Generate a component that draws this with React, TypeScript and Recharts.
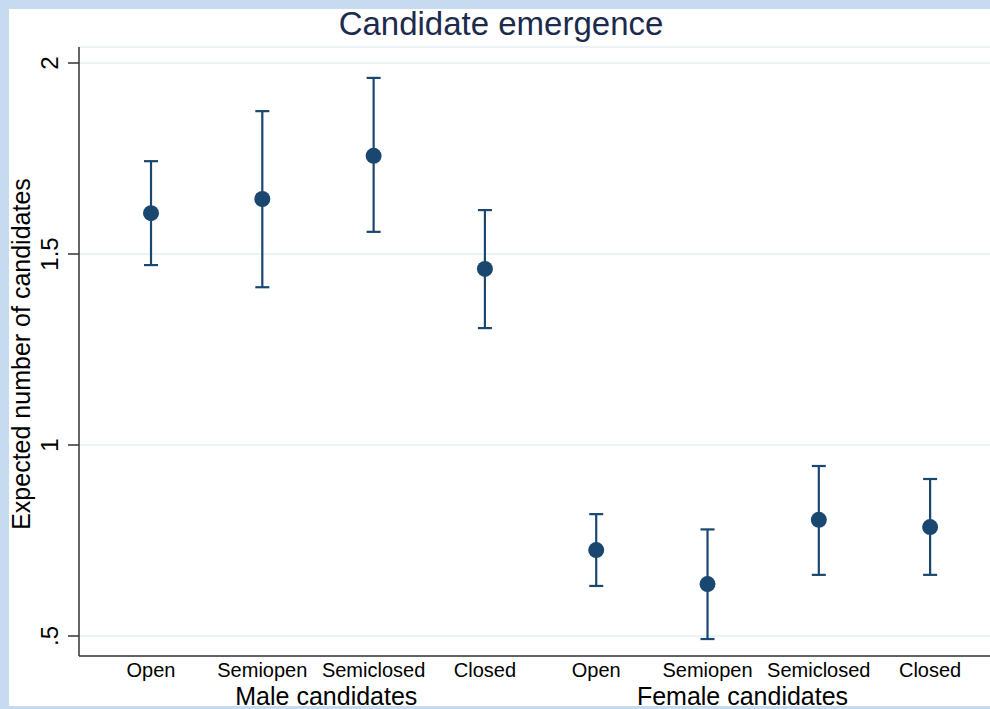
import { ScatterChart, Scatter, XAxis, YAxis, CartesianGrid, ErrorBar } from 'recharts';

const categories = ['Open', 'Semiopen', 'Semiclosed', 'Closed', 'Open', 'Semiopen', 'Semiclosed', 'Closed'];
const groupLabels = ['Male candidates', 'Female candidates'];
const estimates = [1.607, 1.644, 1.757, 1.461, 0.725, 0.636, 0.804, 0.785];
const lowerCI = [1.471, 1.413, 1.558, 1.306, 0.631, 0.492, 0.66, 0.66];
const upperCI = [1.743, 1.874, 1.961, 1.615, 0.819, 0.779, 0.945, 0.911];
const yTicks = [0.5, 1, 1.5, 2];
const yTickLabels = ['.5', '1', '1.5', '2'];

const points = categories.map((c, i) => ({
  x: i,
  name: c,
  y: estimates[i],
  err: [estimates[i] - lowerCI[i], upperCI[i] - estimates[i]],
}));

const navy = '#1a476f';
const font = '"Liberation Sans", Arial, Helvetica, sans-serif';

// group label sits under the second category of each group
const groupAt: Record<number, { label: string; dx: number }> = {
  1: { label: groupLabels[0], dx: 64 },
  5: { label: groupLabels[1], dx: 35 },
};

const XTick = (props: any) => {
  const { x, y, payload } = props;
  const g = groupAt[payload.value];
  return (
    <g>
      <text x={x} y={y + 21} textAnchor="middle" fontSize={20} fontFamily={font} fill="#000">
        {categories[payload.value]}
      </text>
      {g && (
        <text x={x + g.dx} y={y + 49} textAnchor="middle" fontSize={25} fontFamily={font} fill="#000">
          {g.label}
        </text>
      )}
    </g>
  );
};

const YTick = (props: any) => {
  const { x, y, payload } = props;
  const idx = yTicks.indexOf(payload.value);
  return (
    <text x={x} y={y} transform={`rotate(-90 ${x} ${y})`} textAnchor="middle" fontSize={24} fontFamily={font} fill="#000">
      {yTickLabels[idx]}
    </text>
  );
};

const Dot = (props: any) => <circle cx={props.cx} cy={props.cy} r={8} fill={navy} />;

export default function App() {
  return (
    <div style={{ position: 'fixed', left: 0, top: 0, width: 990, height: 709, background: '#c6dbef', overflow: 'hidden' }}>
      <div style={{ position: 'absolute', left: 9, top: 9, width: 981, height: 697, background: '#fff' }} />
      <div style={{ position: 'absolute', left: 0, top: 0 }}>
        <ScatterChart width={990} height={709} margin={{ top: 47, right: 0, bottom: 0, left: 0 }}>
          <CartesianGrid vertical={false} stroke="#e6eff1" strokeWidth={1.5} />
          <XAxis
            type="number"
            dataKey="x"
            domain={[-0.647, 7.538]}
            ticks={[0, 1, 2, 3, 4, 5, 6, 7]}
            interval={0}
            allowDataOverflow
            height={53}
            tickLine={false}
            tickSize={0}
            tickMargin={0}
            axisLine={{ stroke: '#333', strokeWidth: 1.5 }}
            tick={<XTick />}
          />
          <YAxis
            type="number"
            dataKey="y"
            domain={[0.4476, 2.0419]}
            ticks={yTicks}
            allowDataOverflow
            width={79}
            tickSize={11}
            tickMargin={10}
            tickLine={{ stroke: '#333', strokeWidth: 1.5 }}
            axisLine={{ stroke: '#333', strokeWidth: 1.5 }}
            tick={<YTick />}
          />
          <Scatter data={points} fill={navy} shape={<Dot />} isAnimationActive={false}>
            <ErrorBar dataKey="err" direction="y" width={7} stroke={navy} strokeWidth={2.2} isAnimationActive={false} />
          </Scatter>
        </ScatterChart>
      </div>
      <svg width={990} height={709} style={{ position: 'absolute', left: 0, top: 0, pointerEvents: 'none' }}>
        <text x={501} y={35} textAnchor="middle" fontSize={33} fontFamily={font} fill="#1c2a4d">
          Candidate emergence
        </text>
        <text x={30} y={354} transform="rotate(-90 30 354)" textAnchor="middle" fontSize={25} fontFamily={font} fill="#000">
          Expected number of candidates
        </text>
      </svg>
    </div>
  );
}
